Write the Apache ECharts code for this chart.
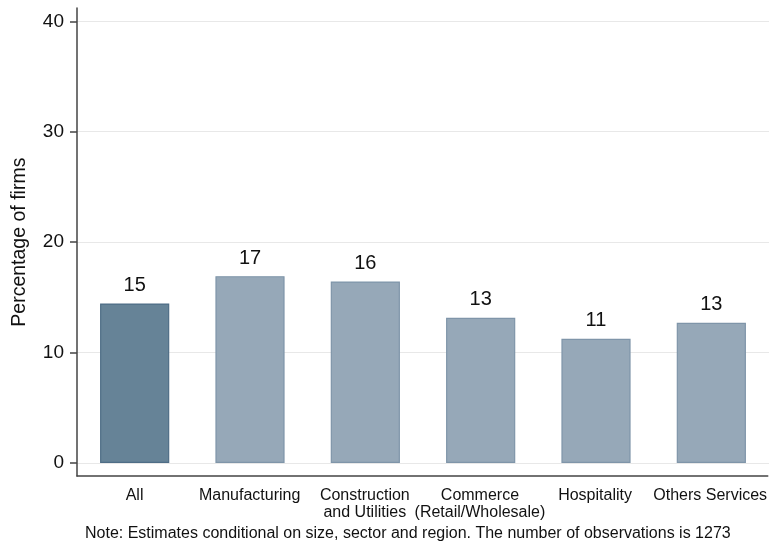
<!DOCTYPE html>
<html><head><meta charset="utf-8">
<script src="https://cdn.jsdelivr.net/npm/echarts@6/dist/echarts.min.js"></script>
<style>html,body{margin:0;padding:0;background:#fff}#c{width:770px;height:546px}</style>
</head><body><div id="c"></div>
<script>
const categories = ['All', 'Manufacturing', 'Construction\nand Utilities', 'Commerce\n(Retail/Wholesale)', 'Hospitality', 'Others Services'];
const values = [14.45, 16.92, 16.44, 13.15, 11.25, 12.70];
const valueLabels = ['15', '17', '16', '13', '11', '13'];
const yTicks = [0, 10, 20, 30, 40];
const yTitle = 'Percentage of firms';
const note = 'Note: Estimates conditional on size, sector and region. The number of observations is 1273';

const FONT = '"Liberation Sans", Arial, sans-serif';
const chart = echarts.init(document.getElementById('c'), null, {renderer: 'canvas'});
const barData = values.map((v, i) => ({
  value: v,
  itemStyle: i === 0
    ? {color: '#668397', borderColor: '#4e6d86', borderWidth: 1.2}
    : {color: '#96a8b8', borderColor: '#7f95a9', borderWidth: 1.2}
}));
chart.setOption({
  animation: false,
  backgroundColor: '#fff',
  title: {text: note, left: 85, top: 526, padding: 0, textStyle: {fontFamily: FONT, fontSize: 16, fontWeight: 'normal', color: '#111'}},
  grid: [
    {left: 77, width: 692, top: 21.3, height: 441.7},
    {left: 77, width: 692, top: 8, height: 468}
  ],
  xAxis: [
    {gridIndex: 0, type: 'category', data: categories, axisLine: {show: false}, axisTick: {show: false}, axisLabel: {show: false}},
    {gridIndex: 1, type: 'category', data: categories,
     axisLine: {lineStyle: {color: '#444', width: 1.5}},
     axisTick: {alignWithLabel: true, length: 7, lineStyle: {color: '#444', width: 1.5}},
     axisLabel: {fontFamily: FONT, fontSize: 16, color: '#111', margin: 11, lineHeight: 17, interval: 0}}
  ],
  yAxis: [
    {gridIndex: 0, type: 'value', min: yTicks[0], max: yTicks[yTicks.length - 1], interval: 10,
     name: yTitle, nameLocation: 'middle', nameGap: 47, nameRotate: 90,
     nameTextStyle: {fontFamily: FONT, fontSize: 19.5, color: '#111'},
     axisLine: {show: false},
     axisTick: {show: true, length: 7, lineStyle: {color: '#444', width: 1.5}},
     axisLabel: {fontFamily: FONT, fontSize: 19, color: '#111', margin: 13},
     splitLine: {lineStyle: {color: '#e8e8e8', width: 1}}},
    {gridIndex: 1, type: 'value', min: 0, max: 1,
     axisLine: {show: true, lineStyle: {color: '#444', width: 1.5}},
     axisTick: {show: false}, axisLabel: {show: false}, splitLine: {show: false}}
  ],
  series: [{
    type: 'bar', xAxisIndex: 0, yAxisIndex: 0, data: barData, barWidth: '60%',
    label: {show: true, position: 'top', distance: 8, fontFamily: FONT, fontSize: 20, color: '#111',
      formatter: p => valueLabels[p.dataIndex]}
  }]
});
</script></body></html>
